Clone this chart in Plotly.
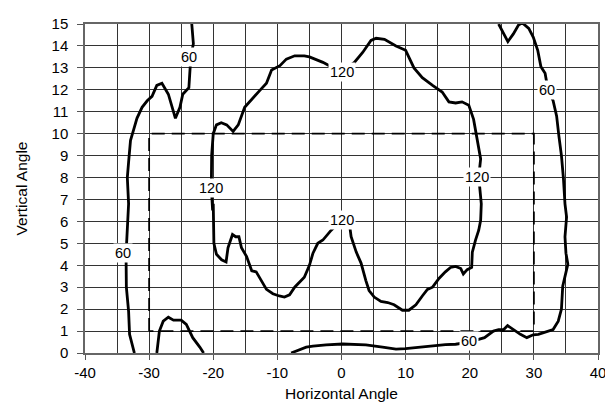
import plotly.graph_objects as go

# ---- data ----
c60_left_x = [-23.35, -23.1, -23.5, -23.6, -23.8, -24.75, -25.2, -25.9, -27.0, -28.0, -28.8, -29.55, -30.3,
              -31.1, -31.9, -32.4, -32.9, -33.2, -33.4, -33.2, -33.45, -33.6, -33.55, -33.2, -33.05, -32.3]
c60_left_y = [15.0, 14.1, 13.5, 12.85, 12.1, 11.8, 11.2, 10.7, 11.8, 12.3, 12.2, 11.7, 11.5,
              11.2, 10.7, 10.2, 9.7, 8.7, 8.0, 6.8, 5.6, 4.5, 3.0, 1.9, 0.85, 0.0]

c60_bump_x = [-28.8, -28.4, -27.8, -27.0, -26.2, -25.0, -24.2, -23.2, -22.1, -21.5]
c60_bump_y = [0.0, 1.0, 1.45, 1.63, 1.5, 1.5, 1.3, 0.7, 0.27, 0.0]

c60_right_x = [-7.85, -6.6, -5.5, -4.45, -2.4, 0.2, 3.8, 6.4, 8.5, 10.0, 12.1, 14.2, 16.2, 17.8, 19.9,
               22.3, 23.0, 23.7, 24.5, 25.3, 25.9, 26.8, 27.9, 28.9, 29.9, 30.7, 31.75, 33.0, 33.8,
               34.3, 34.5, 34.85, 35.3, 35.0, 34.85, 35.1, 34.85, 34.6, 34.3, 33.9, 33.55, 33.0,
               32.2, 31.75, 31.1, 30.6, 29.9, 29.2, 28.2, 27.6, 26.8, 25.95, 25.3, 24.5]
c60_right_y = [0.0, 0.15, 0.27, 0.31, 0.37, 0.41, 0.37, 0.27, 0.18, 0.2, 0.27, 0.34, 0.38, 0.4, 0.5,
               0.7, 0.85, 1.0, 1.07, 1.07, 1.25, 1.07, 0.85, 0.7, 0.83, 0.85, 0.95, 1.07, 1.45,
               2.0, 3.05, 3.5, 4.05, 4.55, 5.3, 6.2, 6.8, 8.0, 9.0, 9.9, 10.8, 11.5,
               12.0, 12.75, 13.05, 13.8, 14.4, 14.8, 15.05, 14.95, 14.55, 14.2, 14.55, 15.0]

c120_x = [-20.3, -20.25, -20.0, -19.5, -18.75, -17.9, -16.9, -16.1, -15.1, -13.8, -12.8, -11.7, -10.9,
          -9.6, -8.6, -7.3, -5.8, -5.0, -2.9, 0.0, 2.0, 3.3, 4.6, 5.4, 6.7, 8.5, 10.0, 11.3, 12.6,
          14.2, 15.7, 16.75, 17.8, 18.8, 19.85, 20.6, 21.1, 21.7, 21.4, 21.8, 21.7, 21.4, 20.9,
          20.4, 20.3, 19.6, 19.0, 18.6, 17.8, 17.0, 16.2, 15.2, 14.2, 13.4, 12.6, 11.6, 10.5,
          9.5, 8.2, 7.2, 6.15, 5.1, 4.3, 3.8, 3.05, 2.3, 1.5, 1.25, 0.0, -1.6, -2.9, -3.7, -4.45,
          -5.0, -5.8, -6.6, -7.3, -8.1, -8.9, -9.7, -10.7, -11.7, -12.5, -13.3, -14.0, -14.8,
          -15.6, -16.0, -16.5, -17.0, -17.7, -18.0, -18.7, -19.5, -19.9, -20.0, -20.0, -20.1, -20.3]
c120_y = [7.54, 9.0, 10.0, 10.4, 10.5, 10.4, 10.1, 10.4, 11.2, 11.6, 11.95, 12.3, 12.9,
          13.1, 13.4, 13.55, 13.55, 13.5, 13.25, 12.8, 13.25, 13.7, 14.25, 14.35, 14.3, 14.0, 13.8, 13.0, 12.55,
          12.2, 11.9, 11.45, 11.4, 11.45, 11.3, 10.65, 9.75, 8.85, 8.03, 6.8, 6.05, 5.6, 5.15,
          4.6, 3.9, 3.8, 3.6, 3.85, 3.95, 3.9, 3.7, 3.4, 3.0, 2.9, 2.6, 2.2, 1.95,
          1.95, 2.2, 2.3, 2.35, 2.55, 2.85, 3.3, 4.1, 4.6, 5.3, 5.85, 6.07, 5.6, 5.15, 5.0, 4.55,
          4.0, 3.45, 3.2, 3.0, 2.65, 2.55, 2.6, 2.7, 2.9, 3.3, 3.7, 3.75, 4.4,
          4.8, 5.3, 5.3, 5.4, 4.8, 4.15, 4.25, 4.5, 5.0, 5.9, 6.8, 6.5, 7.54]

rect_x = [-30, -30, 30, 30, -30]
rect_y = [1, 10, 10, 1, 1]

label_text = ["60", "120", "60", "60", "120", "120", "120", "60"]
label_x = [-23.8, 0.0, 32.1, -34.0, -20.3, 21.1, 0.0, 19.9]
label_y = [13.5, 12.8, 12.0, 4.56, 7.54, 8.03, 6.07, 0.56]

x_tick_vals = [-40, -30, -20, -10, 0, 10, 20, 30, 40]
x_tick_text = ["-40", "-30", "-20", "-10", "0", "10", "20", "30", "40"]
y_tick_vals = list(range(0, 16))
y_tick_text = [str(v) for v in y_tick_vals]

x_title = "Horizontal Angle"
y_title = "Vertical Angle"

# ---- figure ----
FONT = "Liberation Sans, Arial, Helvetica, sans-serif"
fig = go.Figure()

fig.add_trace(go.Scatter(x=rect_x, y=rect_y, mode="lines",
                         line=dict(color="black", width=1.8, dash="13px,7px"),
                         hoverinfo="skip", showlegend=False))

for xs, ys in [(c60_left_x, c60_left_y), (c60_bump_x, c60_bump_y),
               (c60_right_x, c60_right_y), (c120_x, c120_y)]:
    fig.add_trace(go.Scatter(x=xs, y=ys, mode="lines",
                             line=dict(color="black", width=2.8),
                             hoverinfo="skip", showlegend=False, cliponaxis=True))

for t, x, y in zip(label_text, label_x, label_y):
    fig.add_annotation(x=x, y=y, text=t, showarrow=False, bgcolor="white",
                       font=dict(family=FONT, size=14.5, color="black"),
                       borderpad=1)

# page body has an 8px margin, so the figure is sized/offset to compensate
fig.update_layout(
    width=605, height=401,
    margin=dict(l=77, r=14, t=7, b=56),
    paper_bgcolor="white", plot_bgcolor="white",
    font=dict(family=FONT, size=15, color="black"),
    xaxis=dict(range=[-40, 40], tickvals=x_tick_vals, ticktext=x_tick_text,
               showgrid=True, gridcolor="#333",
               gridwidth=1, ticks="outside", ticklen=5, tickcolor="#555",
               showline=True, linecolor="#666", linewidth=1.5, mirror=True, zeroline=False,
               minor=dict(dtick=5, tick0=-40, showgrid=True, gridcolor="#333", gridwidth=1),
               title=dict(text=x_title, font=dict(size=15.5), standoff=8),
               tickfont=dict(size=15)),
    yaxis=dict(range=[0, 15], tickvals=y_tick_vals, ticktext=y_tick_text,
               showgrid=True, gridcolor="#333", gridwidth=1,
               ticks="outside", ticklen=6, tickcolor="#555", ticklabelstandoff=6,
               showline=True, linecolor="#666", linewidth=1.5, mirror=True, zeroline=False,
               title=dict(text=y_title, font=dict(size=15.5), standoff=20),
               tickfont=dict(size=15)),
)

fig.write_html("out.html")
